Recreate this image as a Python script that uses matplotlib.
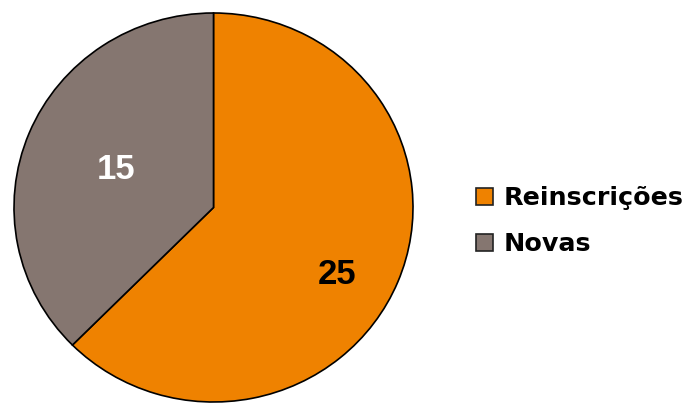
import matplotlib
matplotlib.use("Agg")
import matplotlib.pyplot as plt
from matplotlib.patches import Patch

categories = ["Reinscrições", "Novas"]
values = [25, 15]
colors = ["#EF8200", "#857670"]
label_colors = ["black", "white"]

W, H = 690, 405
fig = plt.figure(figsize=(W / 100, H / 100), dpi=100)
# axes placed so pie fills pixel box x 14..413, y 13..402
ax = fig.add_axes([14 / W, (H - 402) / H, 399 / W, 389 / H])
ax.axis("off")

wedges, texts, autotexts = ax.pie(
    values, colors=colors, startangle=90, counterclock=False, radius=1,
    autopct=lambda p: f"{round(p * sum(values) / 100):d}",
    wedgeprops=dict(edgecolor="black", linewidth=1.2),
    textprops=dict(family=["Liberation Sans", "DejaVu Sans"], fontweight="bold", fontsize=25),
    frame=False,
)
ax.set_xlim(-1, 1)
ax.set_ylim(-1, 1)
ax.set_aspect("auto")

label_pos = [(0.619, -0.342), (-0.489, 0.193)]
for t, pos, c in zip(autotexts, label_pos, label_colors):
    t.set_position(pos)
    t.set_color(c)
    t.set_ha("center")
    t.set_va("center")

handles = [Patch(facecolor=c, edgecolor="#222222", linewidth=1.2) for c in colors]
leg = fig.legend(
    handles, categories, loc="upper left",
    bbox_to_anchor=(476 / W, 1 - 186 / H),
    frameon=False, borderpad=0, borderaxespad=0,
    handlelength=0.65, handleheight=0.65, handletextpad=0.45,
    labelspacing=0.88,
    prop=dict(family="DejaVu Sans", weight="bold", size=18.3),
)

fig.savefig("out.png", dpi=100)
